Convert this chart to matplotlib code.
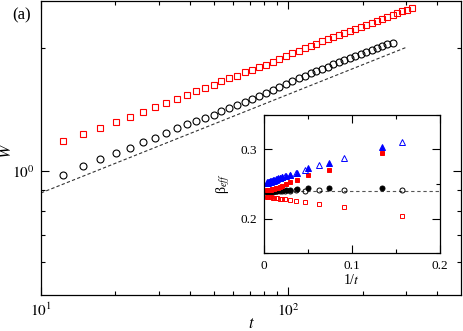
import numpy as np
import matplotlib
matplotlib.use('agg')
from matplotlib import pyplot as plt
from matplotlib.ticker import FixedLocator, FixedFormatter, NullFormatter, MultipleLocator

plt.rcParams['font.family'] = ['Liberation Serif', 'DejaVu Serif']
plt.rcParams['mathtext.fontset'] = 'stix'

# ---- main panel data: W(t) ----
t_vals = [12.3, 14.8, 17.3, 20.1, 22.9, 25.8, 28.8, 31.9, 35.4, 38.8,
          42.2, 45.9, 49.9, 53.7, 57.8, 62.3, 67.1, 71.6, 76.4, 81.5,
          87.0, 92.0, 98.1, 103.8, 110.8, 117.1, 123.8, 129.7, 137.1, 145.0,
          151.9, 160.6, 168.2, 177.8, 186.3, 197.0, 206.3, 218.2, 228.5, 239.3,
          250.7, 265.1, 275.1, 288.2, 301.9, 316.2]
w_circles = [0.978, 1.028, 1.070, 1.106, 1.138, 1.177, 1.204, 1.238, 1.273, 1.302,
             1.324, 1.347, 1.370, 1.401, 1.425, 1.449, 1.474, 1.498, 1.524, 1.550,
             1.576, 1.603, 1.630, 1.658, 1.686, 1.705, 1.733, 1.753, 1.773, 1.793,
             1.824, 1.845, 1.866, 1.887, 1.908, 1.929, 1.951, 1.973, 1.995, 2.018,
             2.041, 2.052]
w_squares = [1.183, 1.231, 1.273, 1.317, 1.354, 1.393, 1.433, 1.465, 1.498, 1.532,
             1.567, 1.594, 1.621, 1.658, 1.686, 1.705, 1.743, 1.763, 1.793, 1.818,
             1.845, 1.876, 1.908, 1.940, 1.962, 1.995, 2.018, 2.041, 2.075, 2.099,
             2.123, 2.147, 2.172, 2.196, 2.221, 2.254, 2.278, 2.304, 2.329, 2.355,
             2.382, 2.408, 2.435, 2.455, 2.477, 2.498]
fit_t = [10, 300]
fit_amp = 0.51
fit_beta = 0.24

main_xticks = [10, 100]
main_xticklabels = ['$10^1$', '$10^2$']
main_yticks = [1]
main_yticklabels = ['$10^0$']

# ---- inset data: beta_eff vs 1/t ----
inv_t_open = [0.157, 0.0909, 0.0625, 0.0466, 0.0362, 0.0294, 0.0245, 0.0208, 0.0178,
              0.0154, 0.0133, 0.0115, 0.0099, 0.0085, 0.0072, 0.0060, 0.0049, 0.0040]
inv_t_filled = [0.1337, 0.0739, 0.0504, 0.0371, 0.0297, 0.0248, 0.0211, 0.0182, 0.0158,
                0.0138, 0.0120, 0.0104, 0.0090, 0.0077, 0.0065, 0.0054, 0.0044, 0.0035]
beta_circ_open = [0.241, 0.241, 0.241, 0.2405, 0.241, 0.2405, 0.240, 0.240, 0.240,
                  0.240, 0.2395, 0.2395, 0.239, 0.239, 0.239, 0.2385, 0.2385, 0.238]
beta_circ_filled = [0.2435, 0.2435, 0.2435, 0.2425, 0.242, 0.2418, 0.2415, 0.241, 0.2408,
                    0.2405, 0.240, 0.240, 0.2398, 0.2395, 0.2393, 0.239, 0.2388, 0.2385]
beta_sq_open = [0.204, 0.216, 0.2213, 0.2246, 0.2256, 0.2268, 0.2276, 0.2282, 0.2288,
                0.2293, 0.2297, 0.2300, 0.2303, 0.2305, 0.2307, 0.2309, 0.231, 0.2312]
beta_sq_filled = [0.2947, 0.271, 0.2633, 0.2565, 0.2525, 0.2495, 0.2475, 0.246, 0.2448,
                  0.2440, 0.2433, 0.2428, 0.2424, 0.2420, 0.2417, 0.2414, 0.2411, 0.2408]
beta_tri_open = [0.3106, 0.287, 0.2778, 0.2706, 0.2665, 0.2635, 0.2612, 0.2595, 0.258,
                 0.2568, 0.2558, 0.2549, 0.2541, 0.2534, 0.2528, 0.2522, 0.2517, 0.2512]
beta_tri_filled = [0.3033, 0.2807, 0.2725, 0.266, 0.263, 0.2615, 0.260, 0.259, 0.258,
                   0.257, 0.2562, 0.2555, 0.2548, 0.2542, 0.2537, 0.2532, 0.2527, 0.2522]
beta_ref = 0.24

inset_xticks = [0, 0.1, 0.2]
inset_xticklabels = ['0', '0.1', '0.2']
inset_yticks = [0.2, 0.3]
inset_yticklabels = ['0.2', '0.3']


def style_ticks(ax, major_len, minor_len):
    ax.tick_params(which='both', direction='in', top=True, right=True, width=0.8, colors='black')
    ax.tick_params(which='major', length=major_len)
    ax.tick_params(which='minor', length=minor_len)
    for s in ax.spines.values():
        s.set_linewidth(0.9)


fig = plt.figure(figsize=(4.63, 3.31), dpi=100)

# main panel
ax = fig.add_axes([0.0886, 0.1088, 0.907, 0.888])
ax.set_xscale('log')
ax.set_yscale('log')
ax.plot(t_vals[:len(w_circles)], w_circles, 'o', mfc='none', mec='black', ms=5, mew=0.8)
ax.plot(t_vals, w_squares, 's', mfc='none', mec='red', ms=5, mew=0.8)
fit_w = [fit_amp * tt**fit_beta for tt in fit_t]
ax.plot(fit_t, fit_w, color='#333333', lw=0.8, ls=(0, (3, 2)))
ax.set_xlim(10, 500)
ax.set_ylim(0.5, 2.6)
ax.xaxis.set_major_locator(FixedLocator(main_xticks))
ax.xaxis.set_major_formatter(FixedFormatter(main_xticklabels))
ax.xaxis.set_minor_locator(FixedLocator([20, 30, 40, 50, 60, 70, 80, 90, 200, 300, 400]))
ax.xaxis.set_minor_formatter(NullFormatter())
ax.yaxis.set_major_locator(FixedLocator(main_yticks))
ax.yaxis.set_major_formatter(FixedFormatter(main_yticklabels))
ax.yaxis.set_minor_locator(FixedLocator([0.6, 0.7, 0.8, 0.9, 2]))
ax.yaxis.set_minor_formatter(NullFormatter())
style_ticks(ax, 5.8, 3.2)
ax.tick_params(labelsize=11, pad=5)
ax.set_xlabel('$t$', fontsize=12)
ax.set_ylabel('$W$', fontsize=12)
ax.xaxis.set_label_coords(0.5, -0.072)
ax.yaxis.set_label_coords(-0.062, 0.49)
fig.text(0.026, 0.955, '(a)', fontsize=12, va='center', ha='left')

# inset
axi = fig.add_axes([0.570, 0.2356, 0.380, 0.417])
axi.axhline(beta_ref, color='#555555', lw=0.8, ls=(0, (3, 2.5)))
axi.plot(inv_t_open, beta_circ_open, 'o', mfc='none', mec='black', ms=3.6, mew=0.7)
axi.plot(inv_t_filled, beta_circ_filled, 'o', mfc='black', mec='black', ms=3.6, mew=0.7)
axi.plot(inv_t_open, beta_sq_open, 's', mfc='none', mec='red', ms=3.3, mew=0.7)
axi.plot(inv_t_filled, beta_sq_filled, 's', mfc='red', mec='red', ms=3.3, mew=0.7)
axi.plot(inv_t_open, beta_tri_open, '^', mfc='none', mec='blue', ms=3.8, mew=0.7)
axi.plot(inv_t_filled, beta_tri_filled, '^', mfc='blue', mec='blue', ms=3.8, mew=0.7)
axi.set_xlim(0, 0.2)
axi.set_ylim(0.15, 0.35)
axi.xaxis.set_major_locator(FixedLocator(inset_xticks))
axi.xaxis.set_major_formatter(FixedFormatter(inset_xticklabels))
axi.xaxis.set_minor_locator(MultipleLocator(0.05))
axi.yaxis.set_major_locator(FixedLocator(inset_yticks))
axi.yaxis.set_major_formatter(FixedFormatter(inset_yticklabels))
axi.yaxis.set_minor_locator(MultipleLocator(0.05))
style_ticks(axi, 5.8, 3.2)
axi.tick_params(labelsize=9.5, pad=5)
axi.set_xlabel('1/$t$', fontsize=10, labelpad=1)
axi.set_ylabel('β$_{eff}$', fontsize=10, labelpad=6)

fig.savefig('out.png', dpi=100)
